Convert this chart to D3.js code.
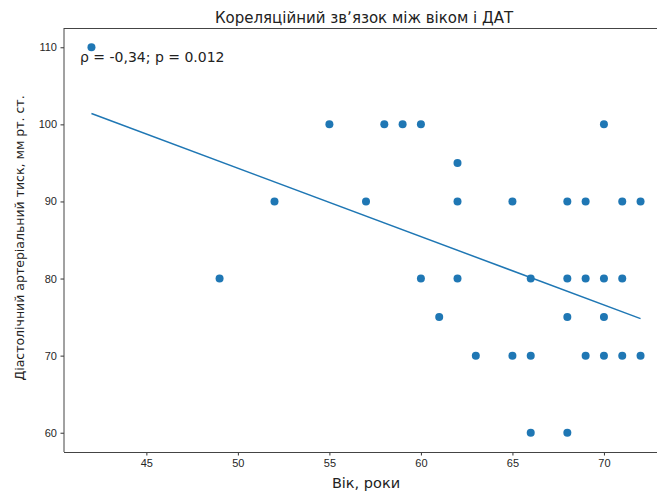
<!DOCTYPE html>
<html>
<head>
<meta charset="utf-8">
<script src="https://cdn.jsdelivr.net/npm/d3@7"></script>
<style>
  body { margin: 0; background: #fff; }
  svg { display: block; font-family: "DejaVu Sans", sans-serif; }
  .tick text { fill: #262626; font-size: 11px; }
  .tick line { stroke: #333; }
  .domain { stroke: none; }
</style>
</head>
<body>
<div id="chart"></div>
<script>
// Age (years) and diastolic blood pressure, one pair per patient
const ages = [42, 49, 52, 55, 57, 58, 59, 60, 60, 61, 62, 62, 62, 63, 65, 65, 66, 66, 66,
  68, 68, 68, 68, 69, 69, 69, 70, 70, 70, 70, 71, 71, 71, 72, 72];
const dbp = [110, 80, 90, 100, 90, 100, 100, 100, 80, 75, 95, 90, 80, 70, 90, 70, 80, 70, 60,
  90, 80, 75, 60, 90, 80, 70, 100, 80, 75, 70, 90, 80, 70, 90, 70];

// Regression line, as drawn (ends of the fit)
const fitX = [42, 72];
const fitY = [101.4, 74.8];

const xTicks = [45, 50, 55, 60, 65, 70];
const yTicks = [60, 70, 80, 90, 100, 110];

const W = 657;
const H = 492;
const margin = { top: 28, left: 64, bottom: 40 };
// the plot area runs past the right edge of the picture
const plotRight = 668;
const plotBottom = H - margin.bottom;

const x = d3.scaleLinear().domain([40.5, 73.5]).range([margin.left, plotRight]);
const y = d3.scaleLinear().domain([57.5, 112.5]).range([plotBottom, margin.top]);

const svg = d3.select('#chart').append('svg')
  .attr('width', W)
  .attr('height', H);

// Axes
svg.append('g')
  .attr('transform', `translate(0,${plotBottom})`)
  .call(d3.axisBottom(x).tickValues(xTicks).tickSize(3.5).tickPadding(3.5));

svg.append('g')
  .attr('transform', `translate(${margin.left},0)`)
  .call(d3.axisLeft(y).tickValues(yTicks).tickSize(3.5).tickPadding(3.5));

// Spines (left, top, bottom)
const spine = svg.append('g').attr('stroke', '#444').attr('stroke-width', 1).attr('fill', 'none');
spine.append('line').attr('x1', margin.left).attr('x2', margin.left).attr('y1', margin.top).attr('y2', plotBottom);
spine.append('line').attr('x1', margin.left).attr('x2', plotRight).attr('y1', margin.top + 0.5).attr('y2', margin.top + 0.5);
spine.append('line').attr('x1', margin.left).attr('x2', plotRight).attr('y1', plotBottom + 0.5).attr('y2', plotBottom + 0.5);

// Points
svg.append('g')
  .selectAll('circle')
  .data(ages.map((a, i) => ({ a, p: dbp[i] })))
  .enter()
  .append('circle')
  .attr('cx', d => x(d.a))
  .attr('cy', d => y(d.p))
  .attr('r', 4)
  .attr('fill', '#1f77b4');

// Fit line
const line = d3.line().x(d => x(d[0])).y(d => y(d[1]));
svg.append('path')
  .datum(fitX.map((v, i) => [v, fitY[i]]))
  .attr('d', line)
  .attr('fill', 'none')
  .attr('stroke', '#1f77b4')
  .attr('stroke-width', 1.5);

// Annotation
svg.append('text')
  .attr('x', 80)
  .attr('y', 62)
  .attr('fill', '#222')
  .attr('font-size', '14px')
  .text('ρ = -0,34; p = 0.012');

// Title
svg.append('text')
  .attr('x', (margin.left + plotRight) / 2 - 2)
  .attr('y', 23)
  .attr('text-anchor', 'middle')
  .attr('fill', '#222')
  .attr('font-size', '15px')
  .text('Кореляційний зв\u02bcязок між віком і ДАТ');

// Axis labels
svg.append('text')
  .attr('x', (margin.left + plotRight) / 2)
  .attr('y', 488)
  .attr('text-anchor', 'middle')
  .attr('fill', '#222')
  .attr('font-size', '14.5px')
  .text('Вік, роки');

svg.append('text')
  .attr('transform', `translate(24,238) rotate(-90)`)
  .attr('text-anchor', 'middle')
  .attr('fill', '#222')
  .attr('font-size', '12.5px')
  .text('Діастолічний артеріальний тиск, мм рт. ст.');
</script>
</body>
</html>
